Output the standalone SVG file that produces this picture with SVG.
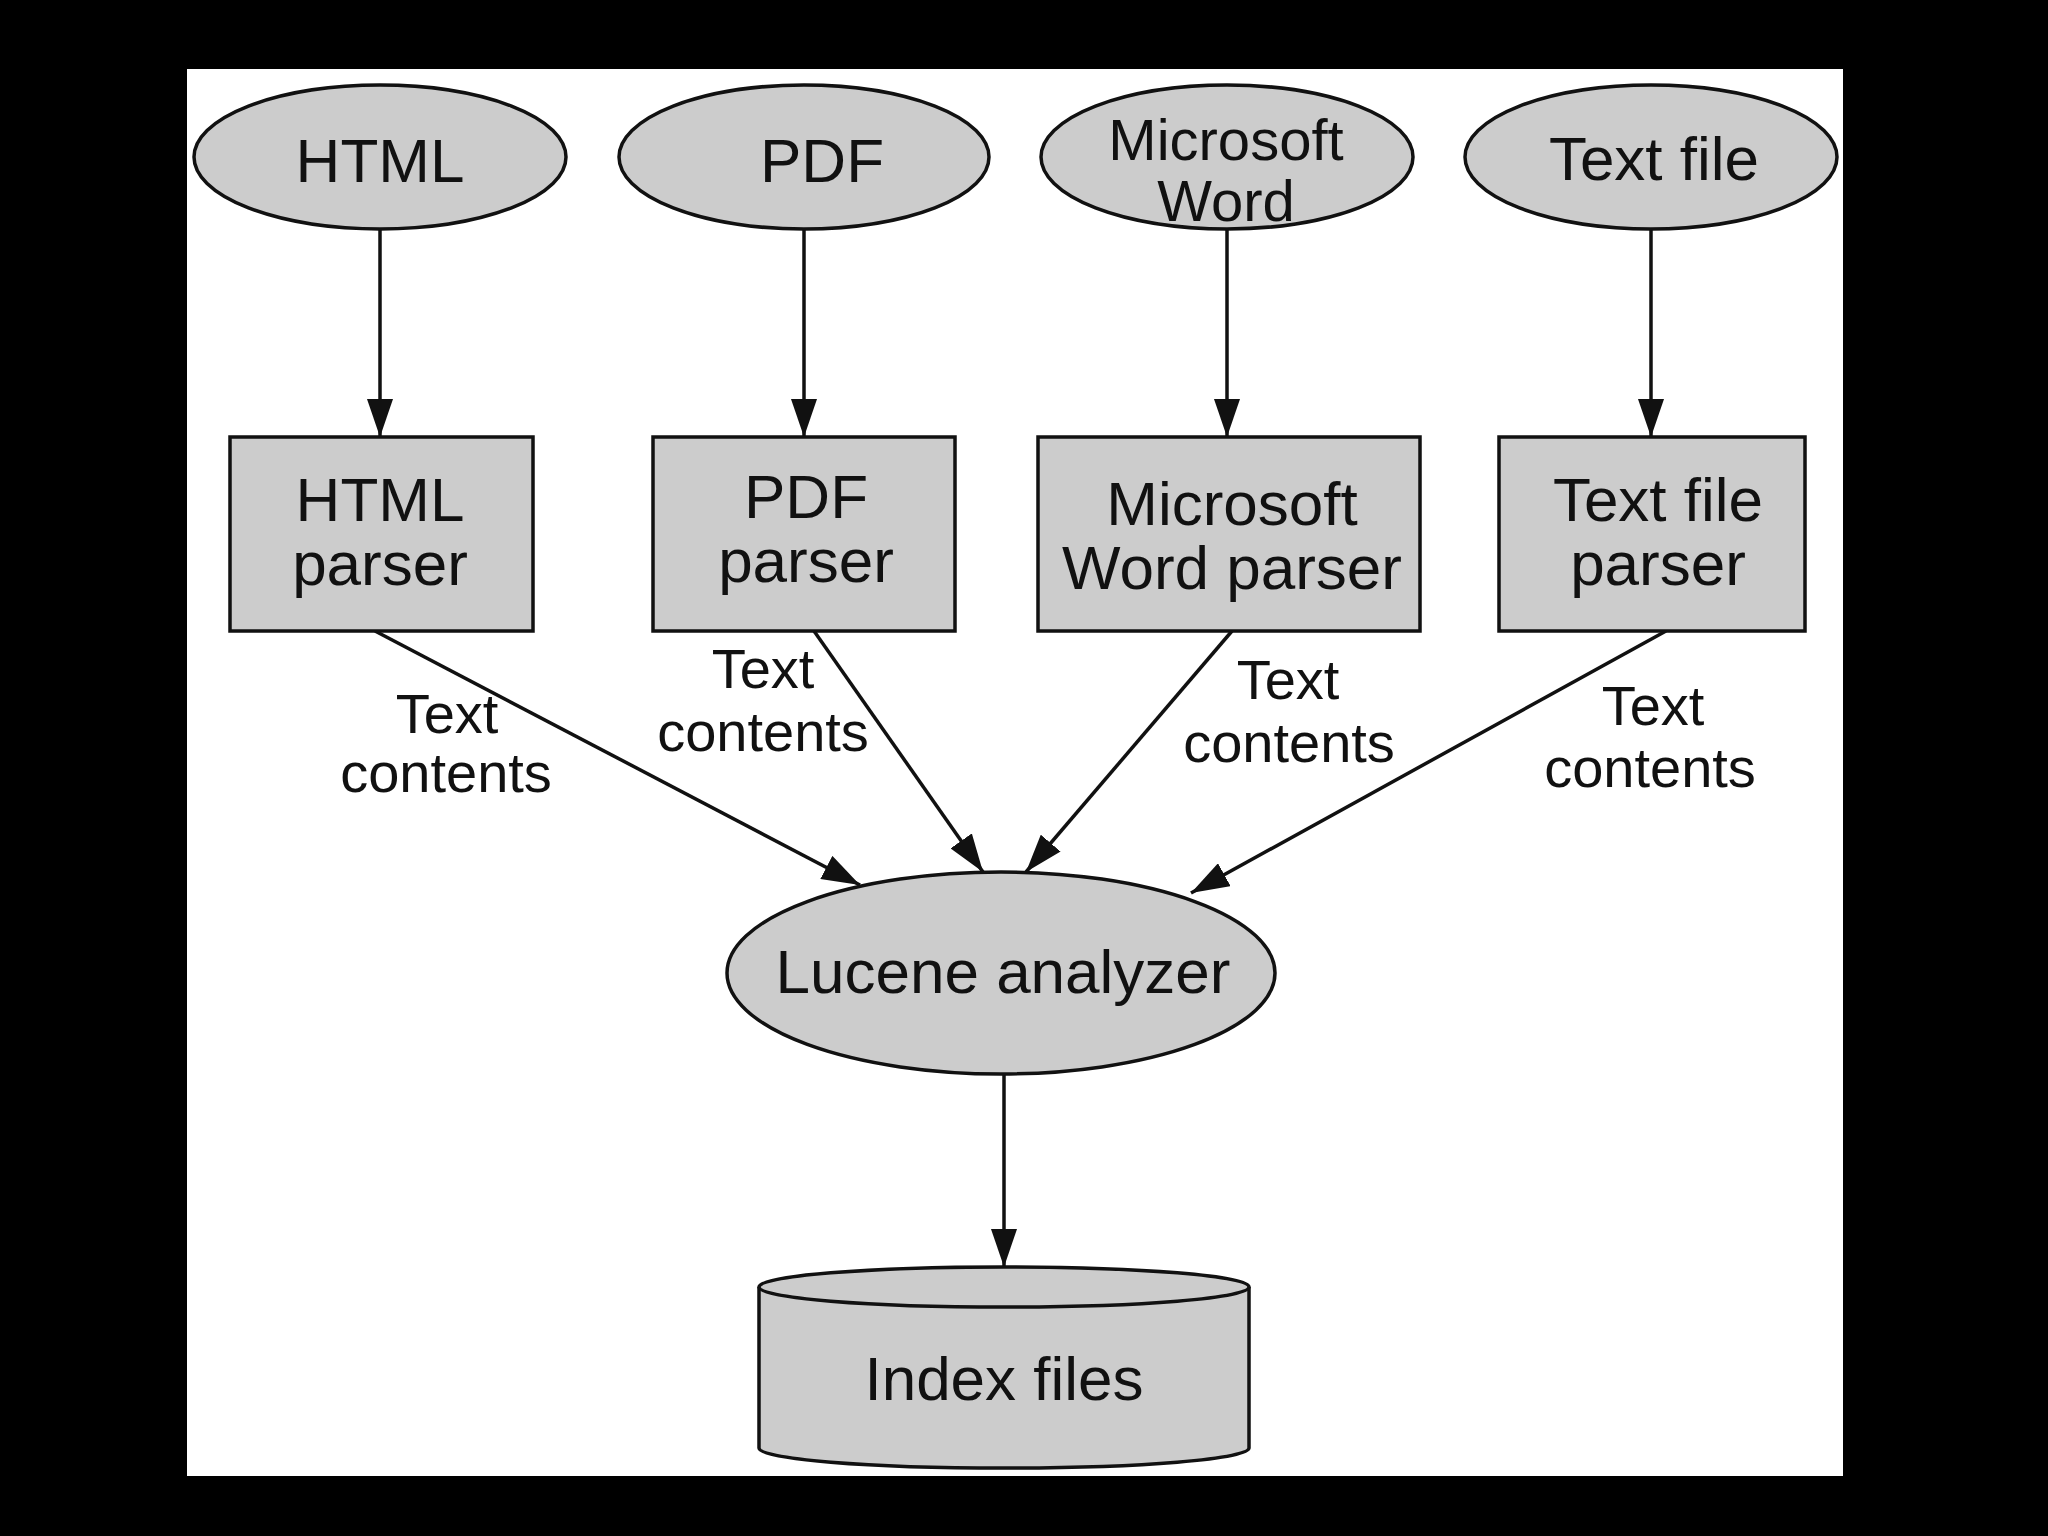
<svg xmlns="http://www.w3.org/2000/svg" width="2048" height="1536" viewBox="0 0 2048 1536">
<defs>
<style>
.shape{fill:#cccccc;stroke:#111;stroke-width:3.5}
.lbl{font-family:"Liberation Sans",Arial,sans-serif;font-size:62px;fill:#111;text-anchor:middle}
.elbl{font-family:"Liberation Sans",Arial,sans-serif;font-size:56px;fill:#111;text-anchor:middle}
.edge{stroke:#111;stroke-width:3.5;fill:none;marker-end:url(#arr)}
</style>
<marker id="arr" markerUnits="userSpaceOnUse" markerWidth="40" markerHeight="26" viewBox="0 0 40 26" refX="38" refY="13" orient="auto">
<path d="M0,0 L38,13 L0,26 z" fill="#111"/>
</marker>
</defs>
<rect x="0" y="0" width="2048" height="1536" fill="#000"/>
<rect x="187" y="69" width="1656" height="1407" fill="#fff"/>

<g id="connectors">
<line class="edge" x1="380" y1="230" x2="380" y2="437"/>
<line class="edge" x1="804" y1="230" x2="804" y2="437"/>
<line class="edge" x1="1227" y1="230" x2="1227" y2="437"/>
<line class="edge" x1="1651" y1="230" x2="1651" y2="437"/>
<line class="edge" x1="375" y1="631" x2="860" y2="885"/>
<line class="edge" x1="814" y1="631" x2="983" y2="872"/>
<line class="edge" x1="1232" y1="631" x2="1026" y2="872"/>
<line class="edge" x1="1666" y1="631" x2="1191" y2="893"/>
<line class="edge" x1="1004" y1="1074" x2="1004" y2="1267"/>
<text class="elbl" x="447" y="733">Text</text>
<text class="elbl" x="446" y="792">contents</text>
<text class="elbl" x="763" y="688">Text</text>
<text class="elbl" x="763" y="751">contents</text>
<text class="elbl" x="1288" y="699">Text</text>
<text class="elbl" x="1289" y="762">contents</text>
<text class="elbl" x="1653" y="725">Text</text>
<text class="elbl" x="1650" y="787">contents</text>
</g>

<g id="html">
<ellipse class="shape" cx="380" cy="157" rx="186" ry="72"/>
<text class="lbl" x="380" y="182">HTML</text>
</g>
<g id="pdf">
<ellipse class="shape" cx="804" cy="157" rx="185" ry="72"/>
<text class="lbl" x="822" y="182">PDF</text>
</g>
<g id="msword">
<ellipse class="shape" cx="1227" cy="157" rx="186" ry="72"/>
<text class="lbl" x="1226" y="160" style="font-size:58px">Microsoft</text>
<text class="lbl" x="1226" y="221" style="font-size:58px">Word</text>
</g>
<g id="textfile">
<ellipse class="shape" cx="1651" cy="157" rx="186" ry="72"/>
<text class="lbl" x="1654" y="180">Text file</text>
</g>

<g id="html-parser">
<rect class="shape" x="230" y="437" width="303" height="194"/>
<text class="lbl" x="380" y="521">HTML</text>
<text class="lbl" x="380" y="585">parser</text>
</g>
<g id="pdf-parser">
<rect class="shape" x="653" y="437" width="302" height="194"/>
<text class="lbl" x="806" y="518">PDF</text>
<text class="lbl" x="806" y="582">parser</text>
</g>
<g id="msword-parser">
<rect class="shape" x="1038" y="437" width="382" height="194"/>
<text class="lbl" x="1232" y="525">Microsoft</text>
<text class="lbl" x="1232" y="589">Word parser</text>
</g>
<g id="textfile-parser">
<rect class="shape" x="1499" y="437" width="306" height="194"/>
<text class="lbl" x="1658" y="521">Text file</text>
<text class="lbl" x="1658" y="585">parser</text>
</g>

<g id="lucene">
<ellipse class="shape" cx="1001" cy="973" rx="274" ry="101"/>
<text class="lbl" x="1003" y="993">Lucene analyzer</text>
</g>

<g id="index">
<path class="shape" d="M759,1287 L759,1448 A245,20 0 0 0 1249,1448 L1249,1287"/>
<ellipse class="shape" cx="1004" cy="1287" rx="245" ry="20"/>
<text class="lbl" x="1004" y="1400">Index files</text>
</g>
</svg>
